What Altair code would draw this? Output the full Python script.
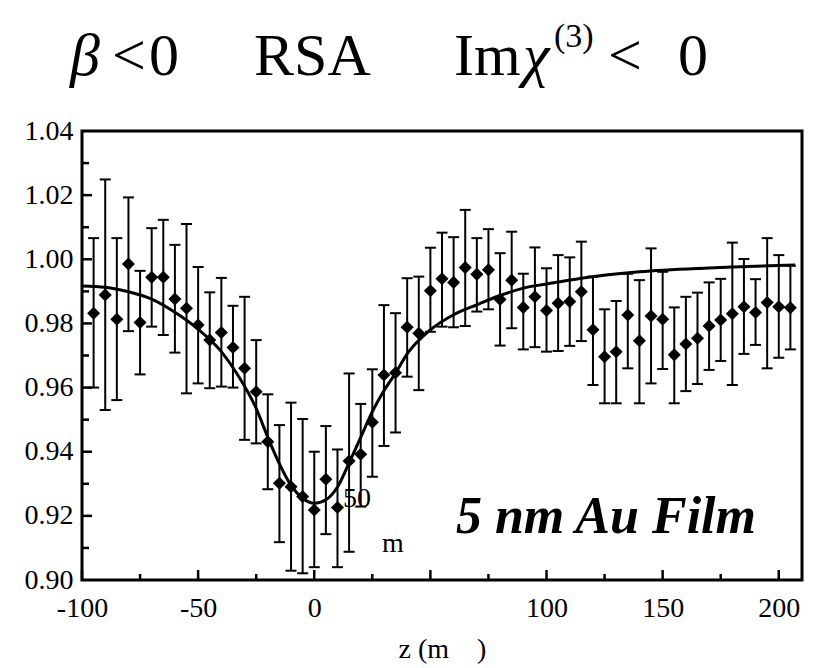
import altair as alt
import pandas as pd

# ---- data ----
z = [-95, -90, -85, -80, -75, -70, -65, -60, -55, -50, -45, -40, -35, -30, -25,
     -20, -15, -10, -5, 0, 5, 10, 15, 20, 25, 30, 35, 40, 45, 50,
     55, 60, 65, 70, 75, 80, 85, 90, 95, 100, 105, 110, 115, 120, 125,
     130, 135, 140, 145, 150, 155, 160, 165, 170, 175, 180, 185, 190, 195, 200, 205]
t_val = [0.9832, 0.9889, 0.9813, 0.9985, 0.9803, 0.9944, 0.9944, 0.9876, 0.9847, 0.9795,
         0.9748, 0.9772, 0.9725, 0.9660, 0.9587, 0.9431, 0.9302, 0.9291, 0.9260, 0.9218,
         0.9314, 0.9226, 0.9371, 0.9392, 0.9492, 0.9639, 0.9646, 0.9788, 0.9769, 0.9902,
         0.9939, 0.9928, 0.9974, 0.9953, 0.9967, 0.9875, 0.9935, 0.9850, 0.9883, 0.9840,
         0.9863, 0.9868, 0.9899, 0.9780, 0.9696, 0.9712, 0.9826, 0.9746, 0.9823, 0.9813,
         0.9702, 0.9736, 0.9754, 0.9792, 0.9811, 0.9830, 0.9852, 0.9834, 0.9865, 0.9852, 0.9849]
t_hi = [1.0066, 1.0249, 1.0066, 1.0193, 0.9964, 1.0097, 1.0123, 1.0045, 1.0110, 0.9976,
        0.9897, 0.9942, 0.9855, 0.9883, 0.9748, 0.9579, 0.9483, 0.9553, 0.9502, 0.9400,
        0.9480, 0.9407, 0.9644, 0.9549, 0.9657, 0.9857, 0.9832, 0.9941, 0.9946, 1.0036,
        1.0083, 1.0069, 1.0154, 1.0066, 1.0094, 1.0019, 1.0086, 0.9955, 1.0037, 0.9972,
        1.0013, 1.0006, 1.0055, 0.9946, 0.9844, 0.9870, 0.9955, 0.9935, 1.0034, 0.9961,
        0.9850, 0.9883, 0.9896, 0.9928, 0.9939, 1.0052, 1.0001, 0.9938, 1.0066, 1.0013, 0.9980]
t_lo = [0.9600, 0.9530, 0.9561, 0.9776, 0.9641, 0.9790, 0.9764, 0.9709, 0.9582, 0.9613,
        0.9598, 0.9603, 0.9600, 0.9437, 0.9426, 0.9283, 0.9118, 0.9029, 0.9021, 0.9040,
        0.9143, 0.9040, 0.9088, 0.9229, 0.9322, 0.9418, 0.9460, 0.9634, 0.9592, 0.9774,
        0.9790, 0.9788, 0.9792, 0.9837, 0.9844, 0.9731, 0.9785, 0.9719, 0.9726, 0.9712,
        0.9714, 0.9730, 0.9745, 0.9608, 0.9551, 0.9551, 0.9660, 0.9551, 0.9613, 0.9658,
        0.9551, 0.9589, 0.9611, 0.9655, 0.9683, 0.9608, 0.9705, 0.9733, 0.9660, 0.9693, 0.9719]

fit_z = [-100, -90, -80, -70, -60, -50, -40, -33, -25, -20, -15, -10, -5, 0, 5, 10,
         15, 20, 25, 30, 35, 40, 50, 60, 70, 80, 90, 100, 115, 140, 170, 207]
fit_v = [0.9917, 0.9913, 0.9899, 0.9876, 0.9835, 0.9782, 0.9712, 0.9640, 0.9535, 0.9445,
         0.9362, 0.9295, 0.9255, 0.9239, 0.9250, 0.9290, 0.9365, 0.9445, 0.9525, 0.9590,
         0.9645, 0.9705, 0.9780, 0.9827, 0.9858, 0.9887, 0.9910, 0.9923, 0.9941, 0.9961,
         0.9973, 0.9982]

x_label_vals = [-100, -50, 0, 100, 150, 200]
y_label_vals = [0.90, 0.92, 0.94, 0.96, 0.98, 1.00, 1.02, 1.04]
x_major = [-100, -50, 0, 50, 100, 150, 200]
x_minor = [-75, -25, 25, 75, 125, 175]
y_major = [0.92, 0.94, 0.96, 0.98, 1.00, 1.02]
y_minor = [0.91, 0.93, 0.95, 0.97, 0.99, 1.01, 1.03]

FONT = "Liberation Serif"
W, H = 720, 449
NB = "\u00a0"

df = pd.DataFrame({"z": z, "v": t_val, "hi": t_hi, "lo": t_lo})
fit = pd.DataFrame({"z": fit_z, "v": fit_v})

xs = alt.Scale(domain=[-100, 210], nice=False, zero=False)
ys = alt.Scale(domain=[0.90, 1.04], nice=False, zero=False)
xax = alt.Axis(values=x_label_vals, ticks=False, tickSize=0, domain=False, grid=False,
               labelFont=FONT, labelFontSize=28, labelColor="black", labelPadding=14,
               labelFlush=False, labelExpr="'' + datum.value",
               titleFont=FONT, titleFontSize=28, titleFontWeight="normal",
               titleColor="black", titlePadding=13)
yax = alt.Axis(values=y_label_vals, ticks=False, tickSize=0, domain=False, grid=False,
               labelFont=FONT, labelFontSize=28, labelColor="black", labelPadding=9,
               format=".2f", labelFlush=False)

x_title = "z (m" + NB * 4 + ")"
X = lambda f: alt.X(f, scale=xs, axis=xax, title=x_title)
Y = lambda f: alt.Y(f, scale=ys, axis=yax, title=None)

base = alt.Chart(df)
err = base.mark_rule(color="black", strokeWidth=2).encode(x=X("z:Q"), y=Y("lo:Q"), y2="hi:Q")
cap_hi = base.mark_rule(color="black", strokeWidth=2, xOffset=-5.5, x2Offset=5.5).encode(
    x=X("z:Q"), x2="z:Q", y=Y("hi:Q"))
cap_lo = base.mark_rule(color="black", strokeWidth=2, xOffset=-5.5, x2Offset=5.5).encode(
    x=X("z:Q"), x2="z:Q", y=Y("lo:Q"))
pts = base.mark_point(shape="diamond", filled=True, color="black", opacity=1, size=170).encode(
    x=X("z:Q"), y=Y("v:Q"))
curve = alt.Chart(fit).mark_line(color="black", strokeWidth=3, interpolate="monotone").encode(
    x=X("z:Q"), y=Y("v:Q"))

xmaj = alt.Chart(pd.DataFrame({"t": x_major})).mark_rule(color="black", strokeWidth=2.5).encode(
    x=X("t:Q"), y=alt.value(H), y2=alt.value(H - 10))
xmin = alt.Chart(pd.DataFrame({"t": x_minor})).mark_rule(color="black", strokeWidth=2.5).encode(
    x=X("t:Q"), y=alt.value(H), y2=alt.value(H - 6))
ymaj = alt.Chart(pd.DataFrame({"t": y_major})).mark_rule(color="black", strokeWidth=2.5).encode(
    y=Y("t:Q"), x=alt.value(0), x2=alt.value(10))
ymin = alt.Chart(pd.DataFrame({"t": y_minor})).mark_rule(color="black", strokeWidth=2.5).encode(
    y=Y("t:Q"), x=alt.value(0), x2=alt.value(7))

# annotations inside the plot (data coordinates)
ann = pd.DataFrame({"z": [61.0], "v": [0.9147], "s": ["5 nm Au Film"]})
film = alt.Chart(ann).mark_text(font=FONT, fontSize=52, fontWeight="bold", fontStyle="italic",
                                align="left", baseline="alphabetic", color="black").encode(
    x=X("z:Q"), y=Y("v:Q"), text="s:N")
stray = pd.DataFrame({"z": [12.4, 29.2], "v": [0.9228, 0.9087], "s": ["50", "m"]})
stray_t = alt.Chart(stray).mark_text(font=FONT, fontSize=28, align="left", baseline="alphabetic",
                                     color="black").encode(
    x=X("z:Q"), y=Y("v:Q"), text="s:N")

# headline above the plot
head_text = ["β", "<", "0", "RSA", "Im", "χ", "(3)", "<", "0"]
head_x = [-12, 30, 67, 172, 372, 441, 472, 526, 596]
head_y = [-56, -56, -56, -56, -56, -56, -84, -56, -56]
head_size = [60, 60, 60, 60, 60, 60, 34, 60, 60]
head_style = ["italic", "normal", "normal", "normal", "normal", "italic", "normal", "normal", "normal"]
heads = []
for s, hx, hy, fs, st in zip(head_text, head_x, head_y, head_size, head_style):
    heads.append(alt.Chart(pd.DataFrame({"s": [s]})).mark_text(
        font=FONT, fontSize=fs, fontStyle=st, align="left", baseline="alphabetic",
        color="black").encode(x=alt.value(hx), y=alt.value(hy), text="s:N"))

chart = alt.layer(err, cap_hi, cap_lo, curve, pts, xmaj, xmin, ymaj, ymin, film, stray_t, *heads).properties(
    width=W, height=H,
    padding={"left": 82, "top": 131, "right": 17, "bottom": 88},
    autosize=alt.AutoSizeParams(type="none"),
    background="white",
).configure_view(stroke="black", strokeWidth=3)

chart.save("out.html", embed_options={"renderer": "svg", "actions": False})
